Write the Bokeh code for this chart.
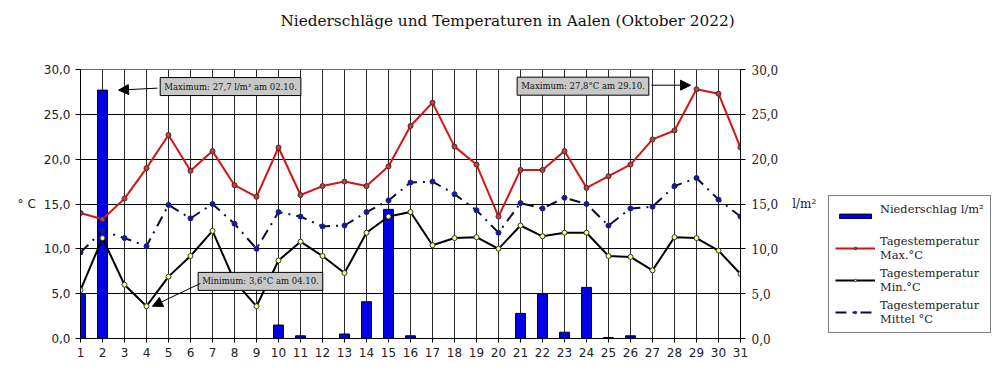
from bokeh.plotting import figure
from bokeh.layouts import row, column
from bokeh.models import (Range1d, LinearAxis, FixedTicker, CustomJSTickFormatter,
                          Label, Arrow, NormalHead, Legend, LegendItem)
from bokeh.embed import file_html
from bokeh.resources import INLINE

days = list(range(1, 32))
niederschlag = [5.0, 27.7, 0, 0, 0, 0, 0, 0, 0, 1.5, 0.3, 0, 0.5, 4.1, 14.4, 0.3,
                0, 0, 0, 0, 2.8, 5.0, 0.7, 5.7, 0.1, 0.3, 0, 0, 0, 0, 0]
t_max = [14.0, 13.3, 15.6, 19.0, 22.7, 18.7, 20.9, 17.1, 15.8, 21.3, 16.0, 17.0, 17.5,
         17.0, 19.2, 23.7, 26.3, 21.4, 19.4, 13.6, 18.8, 18.8, 20.9, 16.8, 18.1, 19.4,
         22.2, 23.2, 27.8, 27.3, 21.3]
t_min = [5.4, 11.2, 6.0, 3.6, 6.9, 9.2, 12.0, 6.4, 3.6, 8.7, 10.8, 9.2, 7.3, 11.8,
         13.6, 14.1, 10.4, 11.2, 11.3, 10.0, 12.6, 11.4, 11.8, 11.8, 9.2, 9.1, 7.6,
         11.3, 11.2, 9.8, 7.2]
t_mittel = [9.6, 12.0, 11.2, 10.3, 14.9, 13.4, 15.0, 12.8, 10.0, 14.1, 13.6, 12.5, 12.6,
            14.1, 15.4, 17.4, 17.5, 16.1, 14.3, 11.8, 15.1, 14.5, 15.7, 15.0, 12.6, 14.5,
            14.7, 17.0, 17.9, 15.5, 13.6]
y_ticks = [0, 5, 10, 15, 20, 25, 30]
title_text = "Niederschläge und Temperaturen in Aalen (Oktober 2022)"

SERIF = "DejaVu Serif"
SANS = "DejaVu Sans"

# style definitions shared by chart and legend
bar_style = dict(fill_color="#0000e6", line_color="black", line_width=1)
max_line = dict(line_color="#d41414", line_width=2)
max_pt = dict(size=5, marker="circle", fill_color="#b04848", line_color="#5a2020", line_width=1)
min_line = dict(line_color="black", line_width=2)
min_pt = dict(size=5, marker="circle", fill_color="#ffff88", line_color="#333333", line_width=1)
mit_line = dict(line_color="#0c0c30", line_width=2, line_dash="11 6 2 6")
mit_pt = dict(size=5, marker="circle", fill_color="#1a1a8c", line_color="#1a1a8c", line_width=1)

# ---- title strip ----
TW, TH = 996, 34
tfig = figure(width=TW, height=TH, x_range=Range1d(0, TW), y_range=Range1d(0, TH),
              output_backend="svg", toolbar_location=None,
              x_axis_location=None, y_axis_location=None,
              min_border_left=0, min_border_right=0, min_border_top=0, min_border_bottom=0)
tfig.grid.visible = False
tfig.outline_line_color = None
tfig.add_layout(Label(x=507, y=TH - 20, text=title_text, text_font=SERIF,
                      text_font_size="15.3px", text_align="center", text_baseline="middle",
                      text_color="#111111"))

# ---- main chart ----
p = figure(width=820, height=342, x_range=Range1d(1, 31), y_range=Range1d(0, 30),
           output_backend="svg", toolbar_location=None,
           min_border_left=80, min_border_right=80, min_border_top=35, min_border_bottom=38)
p.title.text = ""
p.extra_y_ranges = {"right": Range1d(0, 30)}
p.outline_line_color = "#666666"
p.background_fill_color = "white"

fmt = CustomJSTickFormatter(code="return tick.toFixed(1).replace('.', ',')")

p.xaxis.ticker = FixedTicker(ticks=days)
p.xaxis.major_label_text_font = SANS
p.xaxis.major_label_text_font_size = "12px"
p.xaxis.major_label_text_color = "#222222"
p.xaxis.major_tick_in = 0
p.xaxis.major_tick_out = 4
p.xaxis.minor_tick_line_color = None
p.xaxis.axis_line_color = "black"
p.xaxis.major_label_standoff = 5

p.yaxis.ticker = FixedTicker(ticks=y_ticks)
p.yaxis.formatter = fmt
p.yaxis.major_label_text_font = SANS
p.yaxis.major_label_text_font_size = "12px"
p.yaxis.major_label_text_color = "#222222"
p.yaxis.major_tick_in = 0
p.yaxis.major_tick_out = 5
p.yaxis.minor_tick_line_color = None
p.yaxis.axis_line_color = "black"
p.yaxis.major_label_standoff = 5
p.yaxis.axis_label = "° C"
p.yaxis.axis_label_orientation = "horizontal"
p.yaxis.axis_label_text_font = SANS
p.yaxis.axis_label_text_font_size = "12px"
p.yaxis.axis_label_text_font_style = "normal"
p.yaxis.axis_label_text_color = "#222222"
p.yaxis.axis_label_standoff = 5

ax_r = LinearAxis(y_range_name="right", ticker=FixedTicker(ticks=y_ticks), formatter=fmt,
                  major_label_text_font=SERIF, major_label_text_font_size="12px",
                  major_label_text_color="#222222", major_tick_in=0, major_tick_out=5,
                  minor_tick_line_color=None, axis_line_color="black",
                  major_label_standoff=6,
                  axis_label="l/m²", axis_label_orientation="horizontal",
                  axis_label_text_font=SERIF, axis_label_text_font_size="12px",
                  axis_label_text_font_style="normal", axis_label_text_color="#222222",
                  axis_label_standoff=11)
p.add_layout(ax_r, "right")

p.xgrid.ticker = FixedTicker(ticks=days)
p.xgrid.grid_line_color = "#2a2a2a"
p.ygrid.ticker = FixedTicker(ticks=y_ticks)
p.ygrid.grid_line_color = "black"

p.vbar(x=days, top=niederschlag, width=0.45, y_range_name="right", **bar_style)
p.line(days, t_max, **max_line)
p.scatter(days, t_max, **max_pt)
p.line(days, t_min, **min_line)
p.scatter(days, t_min, **min_pt)
p.line(days, t_mittel, **mit_line)
p.scatter(days, t_mittel, **mit_pt)

# annotations
i_rain = niederschlag.index(max(niederschlag))
i_tmax = t_max.index(max(t_max))
i_tmin = t_min.index(min(t_min))

def dstr(v):
    return f"{v:.1f}".replace(".", ",")

box = dict(text_font=SERIF, text_font_size="8.5px", text_align="center",
           text_baseline="middle", background_fill_color="#c8c8c8",
           border_line_color="black", border_line_width=1, padding=4, text_color="#111111")

p.add_layout(Label(x=7.82, y=28.1, y_range_name="right",
                   text=f"Maximum: {dstr(niederschlag[i_rain])} l/m² am {days[i_rain]:02d}.10.", **box))
p.add_layout(Label(x=9.18, y=6.37,
                   text=f"Minimum: {dstr(t_min[i_tmin])}°C am {days[i_tmin]:02d}.10.", **box))
p.add_layout(Label(x=23.84, y=28.14,
                   text=f"Maximum: {dstr(t_max[i_tmax])}°C am {days[i_tmax]:02d}.10.", **box))

head = dict(size=10, fill_color="black", line_color="black")
p.add_layout(Arrow(end=NormalHead(**head), x_start=4.5, y_start=27.92,
                   x_end=days[i_rain] + 0.73, y_end=niederschlag[i_rain],
                   line_width=1, y_range_name="right"))
p.add_layout(Arrow(end=NormalHead(**head), x_start=6.45, y_start=6.14,
                   x_end=days[i_tmin] + 0.27, y_end=t_min[i_tmin], line_width=1))
p.add_layout(Arrow(end=NormalHead(**head), x_start=26.95, y_start=28.25,
                   x_end=days[i_tmax] - 0.27, y_end=28.25, line_width=1))

# ---- legend panel: a second figure whose view lies outside the data,
# so its renderers only serve as legend glyphs ----
lg = figure(width=176, height=342, x_range=Range1d(-100, -99), y_range=Range1d(-100, -99),
            output_backend="svg", toolbar_location=None,
            x_axis_location=None, y_axis_location=None,
            min_border_left=0, min_border_right=0, min_border_top=0, min_border_bottom=0)
lg.grid.visible = False
lg.outline_line_color = None
l_bar = lg.vbar(x=days, top=niederschlag, width=0.45, **bar_style)
l_max = [lg.line(days, t_max, **max_line), lg.scatter(days, t_max, **max_pt)]
l_min = [lg.line(days, t_min, **min_line), lg.scatter(days, t_min, **min_pt)]
l_mit = [lg.line(days, t_mittel, **mit_line), lg.scatter(days, t_mittel, **mit_pt)]

legend = Legend(items=[
    LegendItem(label="Niederschlag l/m²\n ", renderers=[l_bar]),
    LegendItem(label="Tagestemperatur\nMax.°C", renderers=l_max),
    LegendItem(label="Tagestemperatur\nMin.°C", renderers=l_min),
    LegendItem(label="Tagestemperatur\nMittel °C", renderers=l_mit),
], location=(8, 5))
legend.border_line_color = "black"
legend.border_line_width = 1
legend.background_fill_color = "white"
legend.background_fill_alpha = 1
legend.label_text_font = SERIF
legend.label_text_font_size = "11.4px"
legend.label_text_color = "#222222"
legend.label_standoff = 5
legend.glyph_width = 40
legend.glyph_height = 6
legend.spacing = 4
legend.padding = 6
legend.margin = 0
lg.add_layout(legend, "center")

layout = column(tfig, row(p, lg))
open("out.html", "w").write(file_html(layout, INLINE))
